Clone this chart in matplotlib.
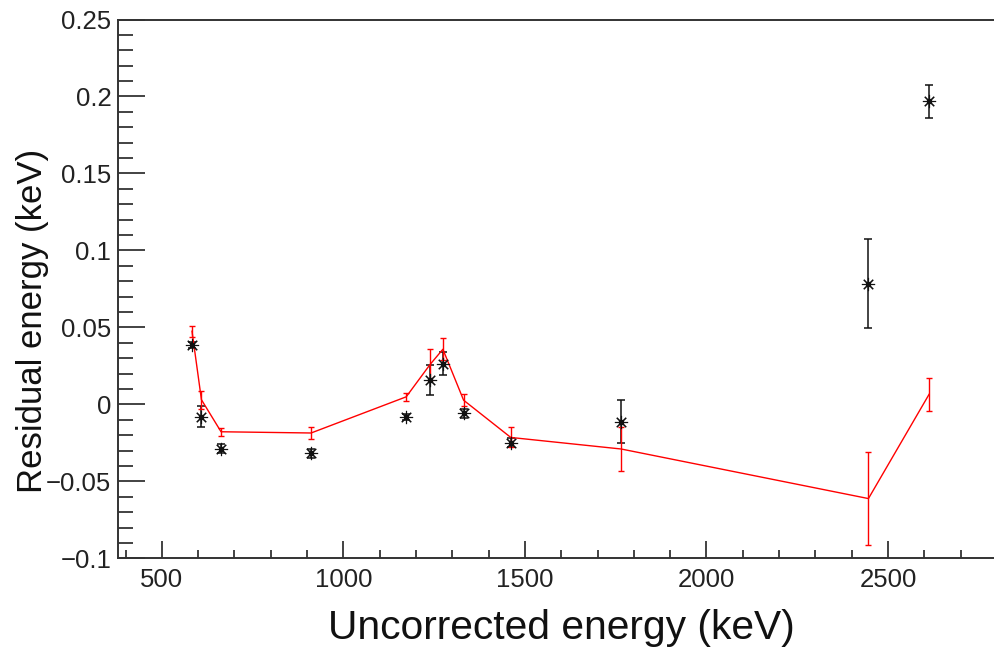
import numpy as np
import matplotlib
matplotlib.use('Agg')
import matplotlib.pyplot as plt
from matplotlib.ticker import MultipleLocator

# ------------------
# DATA
# ------------------
energy = [583, 609, 663, 911, 1173, 1239, 1274, 1331, 1461, 1765, 2446, 2613]

resid_black = [0.0388, -0.0080, -0.0287, -0.0317, -0.0080, 0.0157, 0.0265, -0.0058,
               -0.0248, -0.0114, 0.0783, 0.1968]
err_black = [0.0020, 0.0068, 0.0028, 0.0030, 0.0020, 0.0097, 0.0073, 0.0030,
             0.0030, 0.0140, 0.0290, 0.0105]

resid_red = [0.0475, 0.0030, -0.0178, -0.0186, 0.0049, 0.0260, 0.0358, 0.0027,
             -0.0215, -0.0290, -0.0612, 0.0065]
err_red = [0.0035, 0.0060, 0.0027, 0.0036, 0.0027, 0.0099, 0.0073, 0.0038,
           0.0065, 0.0142, 0.0300, 0.0105]

ytick_values = [-0.1, -0.05, 0, 0.05, 0.1, 0.15, 0.2, 0.25]
ytick_labels = ['\u22120.1', '\u22120.05', '0', '0.05', '0.1', '0.15', '0.2', '0.25']
xtick_values = [500, 1000, 1500, 2000, 2500]
xtick_labels = ['500', '1000', '1500', '2000', '2500']

# ------------------
# FIGURE
# ------------------
plt.rcParams['font.family'] = ['Liberation Sans', 'DejaVu Sans']

W, H = 995, 649
fig = plt.figure(figsize=(W / 100, H / 100), dpi=100)
left, right, top, bottom = 118.3, 1003.5, 19.5, 558.3
ax = fig.add_axes([left / W, 1 - bottom / H, (right - left) / W, (bottom - top) / H])

# black points: asterisk markers with error bars
ax.errorbar(energy, resid_black, yerr=err_black, fmt='none', ecolor='#111111',
            elinewidth=1.1, capsize=3.2, capthick=1.1, zorder=2)

# red points: joined by a line, with error bars
ax.errorbar(energy, resid_red, yerr=err_red, fmt='-', color='#ff0000',
            lw=1.0, elinewidth=1.0, capsize=2.5, capthick=1.0, zorder=3)

ax.plot(energy, resid_black, linestyle='none', marker=(8, 2, 0), markersize=9.5,
        markeredgewidth=0.8, color='#111111', zorder=4)
ax.plot(energy, resid_black, linestyle='none', marker='o', markersize=3,
        color='#111111', zorder=4)

ax.set_xlim(380, 2818)
ax.set_ylim(-0.1, 0.25)

ax.set_xticks(xtick_values)
ax.set_xticklabels(xtick_labels)
ax.set_yticks(ytick_values)
ax.set_yticklabels(ytick_labels)
ax.xaxis.set_minor_locator(MultipleLocator(100))
ax.yaxis.set_minor_locator(MultipleLocator(0.01))

ax.tick_params(axis='both', which='both', direction='in', top=False, right=False,
               colors='#222222', width=1.2, labelsize=18.5)
ax.tick_params(axis='x', which='major', length=12.2, pad=7)
ax.tick_params(axis='x', which='minor', length=5.8)
ax.tick_params(axis='y', which='major', length=19.4, pad=5)
ax.tick_params(axis='y', which='minor', length=10.8)

for side in ['left', 'bottom', 'top', 'right']:
    ax.spines[side].set_color('#333333')
    ax.spines[side].set_linewidth(1.4)

fig.text(561.5 / W, 1 - 628 / H, 'Uncorrected energy (keV)', fontsize=29.3,
         ha='center', va='center', color='#111111')
fig.text(33 / W, 1 - 321 / H, 'Residual energy (keV)', fontsize=25,
         rotation=90, ha='center', va='center', color='#111111')

fig.savefig('out.png', dpi=100)
